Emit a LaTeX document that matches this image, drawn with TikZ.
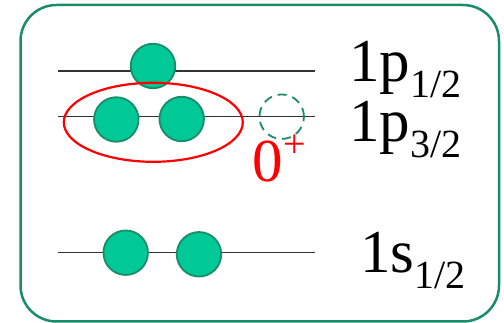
\documentclass[tikz,border=0pt]{standalone}
\usepackage{fontspec}
\setmainfont{Liberation Serif}
\definecolor{verde}{RGB}{0,200,150}
\definecolor{bordo}{RGB}{25,140,105}
\tikzset{
  nucleone/.style={circle,draw=bordo,fill=verde,line width=1.8pt,minimum size=44.5pt,inner sep=0pt},
  buca/.style={circle,draw=bordo,line width=1.8pt,dash pattern=on 9pt off 6pt,minimum size=44.5pt,inner sep=0pt},
  livello/.style={line width=1.4pt,black!80},
  etichetta/.style={anchor=base west,inner sep=0pt,font=\fontsize{61}{61}\selectfont}
}
\newcommand{\pedice}[1]{\raisebox{-16pt}{\fontsize{40}{40}\selectfont #1}}
\begin{document}
\begin{tikzpicture}[x=1pt,y=-1pt]
    \useasboundingbox (0,0) rectangle (504,323);
    \draw[bordo,line width=2.5pt,rounded corners=36pt] (20.5,5) rectangle (499,321.5);

    %livelli
    \coordinate (p1a) at (58,71);   \coordinate (p1b) at (315,71);
    \coordinate (p3a) at (58,116.5); \coordinate (p3b) at (315,116.5);
    \coordinate (s1a) at (58,252.7); \coordinate (s1b) at (315,252.7);
    \draw[livello] (p1a) -- (p1b);
    \draw[livello] (p3a) -- (p3b);
    \draw[livello] (s1a) -- (s1b);

    %disegno nucleoni
    \node[nucleone] (n1) at (153,66) {};
    \node[nucleone] (n2) at (116.3,119.5) {};
    \node[nucleone] (n3) at (181.7,119) {};
    \node[buca] (h1) at (281.7,116.7) {};
    \node[nucleone] (n4) at (125.7,252.7) {};
    \node[nucleone] (n5) at (199,254.3) {};

    %coppia 0+
    \draw[red,line width=2.2pt] (153.3,122.3) ellipse (89.5 and 39.5);
    \node[etichetta,text=red] (zero) at (252.5,182) {0\raisebox{24pt}{\fontsize{40}{40}\selectfont +}};

    \node[etichetta] (lp1) at (349,82) {1p\pedice{1/2}};
    \node[etichetta] (lp3) at (349,141.7) {1p\pedice{3/2}};
    \node[etichetta] (ls1) at (360,273) {1s\pedice{1/2}};
\end{tikzpicture}
\end{document}
